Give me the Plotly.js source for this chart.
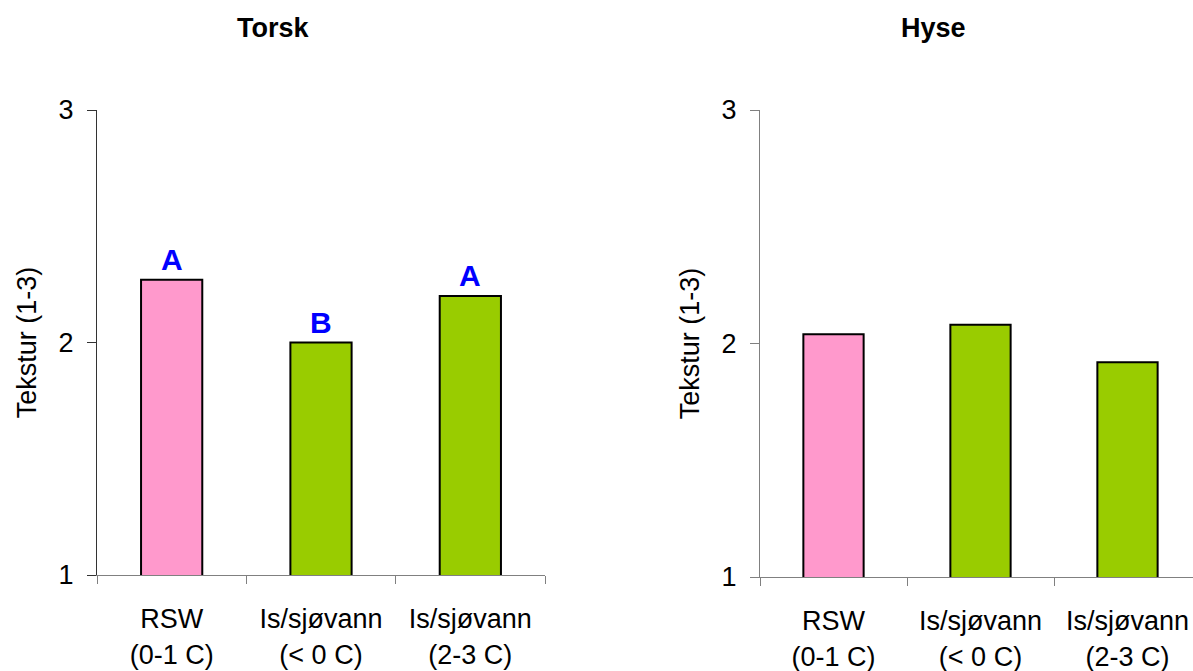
<!DOCTYPE html>
<html>
<head>
<meta charset="utf-8">
<script src="https://cdn.plot.ly/plotly-3.0.1.min.js"></script>
<style>html,body{margin:0;padding:0;overflow:hidden;background:#fff;}</style>
</head>
<body>
<div id="chart" style="width:1193px;height:671px;"></div>
<script>
// Data
const categories = ["RSW<br>(0-1 C)", "Is/sjøvann<br>(< 0 C)", "Is/sjøvann<br>(2-3 C)"];
const torskValues = [2.27, 2.00, 2.20];
const hyseValues = [2.04, 2.08, 1.92];
const torskLetters = ["A", "B", "A"];
const panelTitles = ["Torsk", "Hyse"];
const yTitle = "Tekstur (1-3)";
const yTicks = [1, 2, 3];

// Styles
const barColors = ["#FF99CC", "#99CC00", "#99CC00"];
const font = "Arial, 'Liberation Sans', sans-serif";

const traces = [
  {type: "bar", x: categories, y: torskValues, xaxis: "x", yaxis: "y",
   marker: {color: barColors, line: {color: "#000", width: 2}},
   hoverinfo: "x+y", showlegend: false},
  {type: "bar", x: categories, y: hyseValues, xaxis: "x2", yaxis: "y2",
   marker: {color: barColors, line: {color: "#000", width: 2}},
   hoverinfo: "x+y", showlegend: false}
];

const axisCommon = {
  showgrid: false, zeroline: false, showline: true, linewidth: 1,
  ticks: "outside", tickwidth: 1, tickfont: {family: font, size: 27, color: "#000"}
};

const annotations = torskLetters.map((t, i) => ({
  xref: "x", yref: "y", x: categories[i], y: torskValues[i], text: "<b>" + t + "</b>",
  showarrow: false, yanchor: "bottom", yshift: 2,
  font: {family: font, size: 30, color: "#0000FF"}
}));
annotations.push(
  {xref: "paper", yref: "paper", x: 273/1193, y: 1 - 28/671, text: "<b>" + panelTitles[0] + "</b>",
   showarrow: false, xanchor: "center", yanchor: "middle", font: {family: font, size: 27, color: "#000"}},
  {xref: "paper", yref: "paper", x: 933/1193, y: 1 - 28/671, text: "<b>" + panelTitles[1] + "</b>",
   showarrow: false, xanchor: "center", yanchor: "middle", font: {family: font, size: 27, color: "#000"}}
);

const layout = {
  width: 1193, height: 671,
  margin: {l: 0, r: 0, t: 0, b: 0},
  paper_bgcolor: "#fff", plot_bgcolor: "rgba(0,0,0,0)",
  bargap: 0.59,
  xaxis: Object.assign({}, axisCommon, {
    domain: [97/1193, 545/1193], anchor: "y", type: "category",
    range: [-0.5, 2.5], tickson: "boundaries", ticklen: 8, linecolor: "#808080", tickcolor: "#808080",
    ticklabelstandoff: 20
  }),
  yaxis: Object.assign({}, axisCommon, {
    domain: [(671-575)/671, (671-110)/671], anchor: "x",
    range: [1, 3], tickvals: yTicks, ticklen: 9, linecolor: "#333", tickcolor: "#333",
    ticklabelstandoff: 8,
    title: {text: yTitle, font: {family: font, size: 27, color: "#000"}, standoff: 14}
  }),
  xaxis2: Object.assign({}, axisCommon, {
    domain: [760/1193, 1], anchor: "y2", type: "category",
    range: [-0.5, 2.5 - 8/147], tickson: "boundaries", ticklen: 8, linecolor: "#808080", tickcolor: "#808080",
    ticklabelstandoff: 20
  }),
  yaxis2: Object.assign({}, axisCommon, {
    domain: [(671-577)/671, (671-110)/671], anchor: "x2",
    range: [1, 3], tickvals: yTicks, ticklen: 9, linecolor: "#808080", tickcolor: "#808080",
    ticklabelstandoff: 8,
    title: {text: yTitle, font: {family: font, size: 27, color: "#000"}, standoff: 14}
  }),
  annotations: annotations
};

Plotly.newPlot("chart", traces, layout, {displayModeBar: false, staticPlot: true});
</script>
</body>
</html>
